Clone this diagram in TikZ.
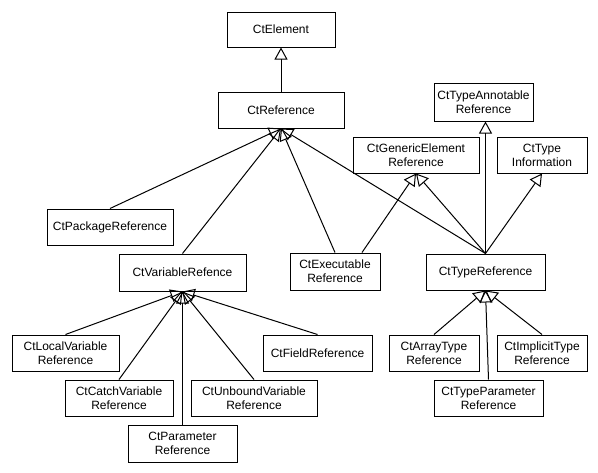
\documentclass[tikz,border=0pt]{standalone}
\usepackage{fontspec}
\setmainfont{Liberation Sans}
\usetikzlibrary{arrows.meta}
\begin{document}
\begin{tikzpicture}[x=1pt,y=-1pt,
  cls/.style={draw=black,line width=1pt,fill=white,inner sep=0pt,minimum height=36pt,align=center,
    font=\fontsize{12}{14}\selectfont},
  inh/.style={draw=black,line width=1pt,-{Triangle[open,length=12pt,width=13pt]}}]
\useasboundingbox[fill=white] (0,0) rectangle (598,472);
% nodes
\node[cls,minimum width=108pt,minimum height=35pt] (elem) at (281,29.5) {CtElement};
\node[cls,minimum width=126pt] (ref) at (281,110) {CtReference};
\node[cls,minimum width=99pt,minimum height=38pt] (ann) at (483.5,102) {CtTypeAnnotable\\Reference};
\node[cls,minimum width=126pt] (gen) at (416,155) {CtGenericElement\\Reference};
\node[cls,minimum width=90pt] (info) at (542,155) {CtType\\Information};
\node[cls,minimum width=126pt] (pkg) at (110,227) {CtPackageReference};
\node[cls,minimum width=127pt,minimum height=37pt] (var) at (182.5,272.5) {CtVariableRefence};
\node[cls,minimum width=90pt,minimum height=37pt] (exec) at (335,271.5) {CtExecutable\\Reference};
\node[cls,minimum width=119pt] (tref) at (485.5,272) {CtTypeReference};
\node[cls,minimum width=107pt] (local) at (65.5,353) {CtLocalVariable\\Reference};
\node[cls,minimum width=109pt] (field) at (317.5,353) {CtFieldReference};
\node[cls,minimum width=108pt] (catch) at (119,398) {CtCatchVariable\\Reference};
\node[cls,minimum width=126pt] (unb) at (254,398) {CtUnboundVariable\\Reference};
\node[cls,minimum width=109pt,minimum height=37pt] (param) at (182.5,443.5) {CtParameter\\Reference};
\node[cls,minimum width=90pt] (array) at (434,353) {CtArrayType\\Reference};
\node[cls,minimum width=90pt] (impl) at (542,353) {CtImplicitType\\Reference};
\node[cls,minimum width=109pt] (tpar) at (488.5,398) {CtTypeParameter\\Reference};
% edges
\draw[inh] (ref.north) -- (elem.south);
\draw[inh] (pkg.north) -- (ref.south);
\draw[inh] (var.north) -- (ref.south);
\draw[inh] (exec.north) -- (ref.south);
\draw[inh] (tref.north) -- (ref.south);
\draw[inh] ([xshift=27pt]exec.north) -- (gen.south);
\draw[inh] (tref.north) -- (gen.south);
\draw[inh] (tref.north) -- (tref.north |- ann.south);
\draw[inh] (tref.north) -- (info.south);
\draw[inh] (local.north) -- (var.south);
\draw[inh] (catch.north) -- (var.south);
\draw[inh] (param.north) -- (var.south);
\draw[inh] (unb.north) -- (var.south);
\draw[inh] (field.north) -- (var.south);
\draw[inh] (array.north) -- (tref.south);
\draw[inh] (impl.north) -- (tref.south);
\draw[inh] (tpar.north) -- (tref.south);
\end{tikzpicture}
\end{document}
